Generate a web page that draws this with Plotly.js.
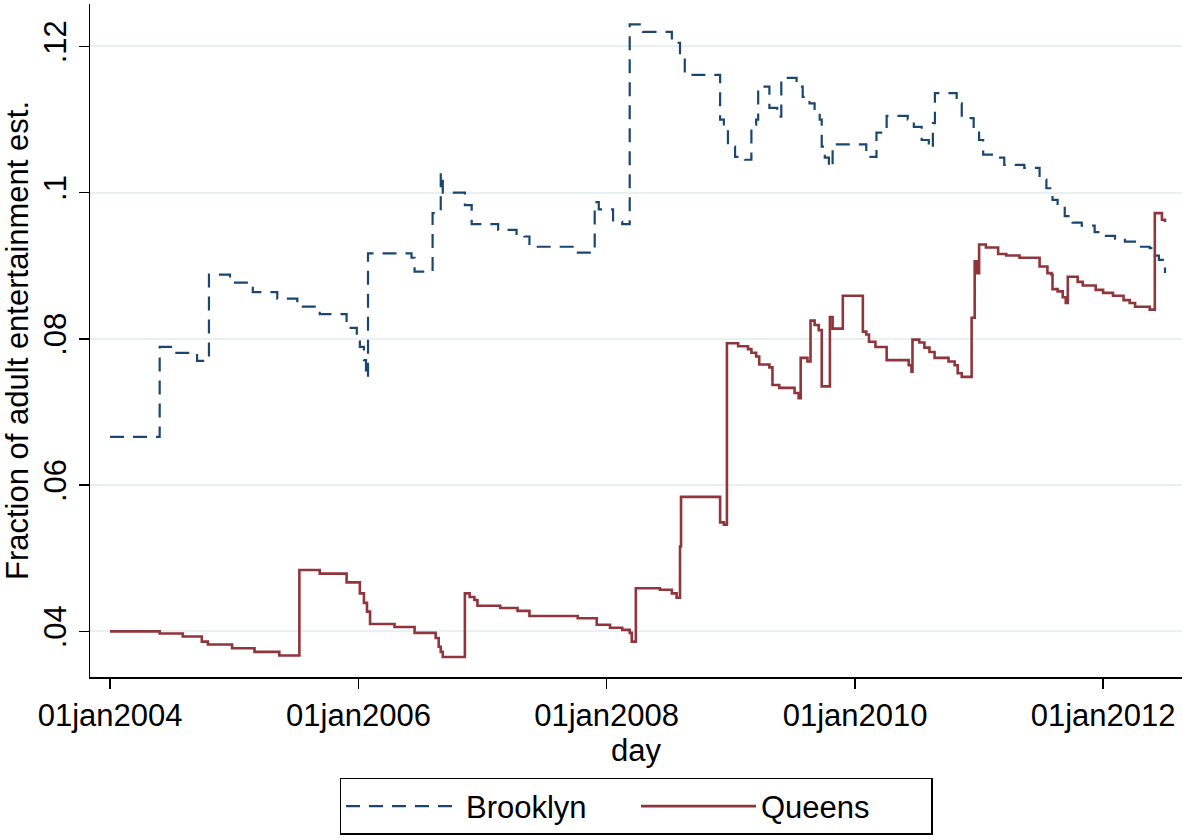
<!DOCTYPE html>
<html>
<head>
<meta charset="utf-8">
<script src="https://cdn.plot.ly/plotly-3.0.1.min.js"></script>
<style>
  html, body { margin: 0; padding: 0; background: #fff; }
  #chart { width: 1183px; height: 840px; }
</style>
</head>
<body>
<div id="chart"></div>
<script>
// step dates / values
const brooklynDates = [
  '2004-01-01', '2004-05-26', '2004-07-09', '2004-09-13', '2004-10-18', '2004-12-19',
  '2005-02-24', '2005-05-07', '2005-07-05', '2005-09-09', '2005-11-27', '2005-12-27',
  '2006-01-05', '2006-01-17', '2006-01-23', '2006-01-29', '2006-06-06', '2006-06-15',
  '2006-08-07', '2006-08-31', '2006-09-06', '2006-11-10', '2006-11-30',
  '2007-02-16', '2007-04-11', '2007-05-04', '2007-05-19', '2007-10-05', '2007-11-27',
  '2007-12-09', '2008-01-20', '2008-02-16', '2008-03-09', '2008-04-17', '2008-07-11',
  '2008-08-04', '2008-08-18', '2008-11-30', '2008-12-11', '2008-12-23', '2009-01-13',
  '2009-02-11', '2009-03-02', '2009-03-16', '2009-03-22', '2009-04-24', '2009-05-17',
  '2009-05-29', '2009-07-13', '2009-07-31', '2009-08-20', '2009-09-04', '2009-09-19',
  '2009-09-25', '2009-10-04', '2009-10-16', '2009-10-27', '2010-02-03', '2010-03-05',
  '2010-04-04', '2010-06-05', '2010-06-23', '2010-07-16', '2010-08-06', '2010-08-18',
  '2010-08-24', '2010-10-27', '2010-11-11', '2010-12-16', '2011-01-01', '2011-01-13',
  '2011-02-23', '2011-03-16', '2011-05-14', '2011-06-28', '2011-07-18', '2011-08-05',
  '2011-08-20', '2011-09-10', '2011-10-03', '2011-10-30', '2011-12-07', '2012-01-01',
  '2012-02-05', '2012-03-05', '2012-04-12', '2012-05-17', '2012-06-01', '2012-06-13',
  '2012-06-25', '2012-07-01'
];
const brooklynVals = [
  .0666, .0789, .0781, .0770, .0888, .0877,
  .0864, .0855, .0844, .0834, .0815, .0800,
  .0789, .0771, .0747, .0917, .0911, .0892,
  .0972, .1027, .1000, .0983, .0957,
  .0949, .0942, .0940, .0926, .0918, .0987,
  .0977, .0960, .0957, .1230, .1220, .1205,
  .1185, .1161, .1100, .1086, .1063, .1049,
  .1045, .1093, .1100, .1145, .1116, .1104,
  .1157, .1145, .1131, .1122, .1110, .1100,
  .1063, .1048, .1035, .1066, .1049, .1082,
  .1105, .1100, .1090, .1072, .1061, .1095,
  .1136, .1122, .1102, .1090, .1072, .1052,
  .1048, .1038, .1034, .1018, .1006, .0990,
  .0983, .0968, .0959, .0955, .0946, .0941,
  .0937, .0933, .0926, .0924, .0914, .0908,
  .0899, .0890
];

const queensDates = [
  '2004-01-01', '2004-05-26', '2004-08-02', '2004-09-27', '2004-10-15', '2004-12-25',
  '2005-03-01', '2005-05-13', '2005-07-11', '2005-09-09', '2005-11-27',
  '2006-01-05', '2006-01-17', '2006-01-26', '2006-02-04', '2006-04-17', '2006-06-15',
  '2006-08-16', '2006-08-25', '2006-08-31', '2006-09-06', '2006-11-10', '2006-11-24',
  '2006-12-08', '2006-12-17', '2007-02-22', '2007-04-14', '2007-05-19', '2007-10-08',
  '2007-12-03', '2008-01-11', '2008-02-16', '2008-03-09', '2008-03-15', '2008-03-27',
  '2008-06-06', '2008-07-11', '2008-07-25', '2008-08-04', '2008-08-07', '2008-11-30',
  '2008-12-11', '2008-12-20', '2009-01-22', '2009-02-20', '2009-03-02', '2009-03-16',
  '2009-03-25', '2009-04-24', '2009-05-03', '2009-05-23', '2009-07-07', '2009-07-19',
  '2009-07-25', '2009-08-14', '2009-08-23', '2009-09-04', '2009-09-16', '2009-09-25',
  '2009-10-19', '2009-10-27', '2009-11-26', '2010-01-24', '2010-02-03', '2010-02-11',
  '2010-03-02', '2010-04-04', '2010-06-08', '2010-06-16', '2010-06-19', '2010-07-09',
  '2010-07-24', '2010-08-08', '2010-08-23', '2010-10-03', '2010-10-21', '2010-10-30',
  '2010-11-11', '2010-12-10', '2010-12-19', '2010-12-25', '2011-01-01', '2011-01-21',
  '2011-02-26', '2011-03-22', '2011-04-30', '2011-06-28', '2011-07-21', '2011-08-02',
  '2011-08-05', '2011-08-20', '2011-09-04', '2011-09-13', '2011-09-19', '2011-10-18',
  '2011-11-02', '2011-12-10', '2012-01-01', '2012-01-30', '2012-03-01', '2012-03-19',
  '2012-04-04', '2012-05-17', '2012-06-01', '2012-06-22', '2012-07-01'
];
const queensVals = [
  .0400, .0397, .0393, .0386, .0382, .0377,
  .0372, .0367, .0484, .0479, .0467,
  .0452, .0439, .0427, .0410, .0406, .0398,
  .0391, .0379, .0372, .0365, .0452, .0447,
  .0443, .0435, .0432, .0428, .0421, .0418,
  .0409, .0405, .0402, .0398, .0386, .0459,
  .0457, .0452, .0446, .0516, .0584, .0549,
  .0546, .0794, .0790, .0786, .0781, .0776,
  .0765, .0761, .0737, .0733, .0726, .0719,
  .0774, .0769, .0825, .0819, .0812, .0735,
  .0830, .0814, .0859, .0810, .0806, .0796,
  .0789, .0771, .0764, .0755, .0799, .0795,
  .0788, .0782, .0774, .0769, .0764, .0753,
  .0748, .0829, .0906, .0890, .0929, .0925,
  .0916, .0914, .0911, .0899, .0890, .0888,
  .0868, .0865, .0857, .0849, .0885, .0878,
  .0873, .0867, .0863, .0859, .0853, .0849,
  .0844, .0840, .0972, .0963, .0960
];

const xTickVals = ['2004-01-01', '2006-01-01', '2008-01-01', '2010-01-01', '2012-01-01'];
const xTickText = ['01jan2004', '01jan2006', '01jan2008', '01jan2010', '01jan2012'];
const yTickVals = [0.04, 0.06, 0.08, 0.10, 0.12];
const yTickText = ['.04', '.06', '.08', '.1', '.12'];

const FONT = 'Liberation Sans, Arial, Helvetica, sans-serif';
const FS = 31;

const traces = [
  {
    type: 'scatter',
    mode: 'lines',
    name: 'Brooklyn',
    x: brooklynDates,
    y: brooklynVals,
    line: { shape: 'hv', color: '#1a476f', width: 2.2, dash: '14px,9px' }
  },
  {
    type: 'scatter',
    mode: 'lines',
    name: 'Queens',
    x: queensDates,
    y: queensVals,
    line: { shape: 'hv', color: '#90353b', width: 2.6 }
  }
];

const layout = {
  width: 1183,
  height: 840,
  margin: { l: 90, r: 1, t: 4, b: 163 },
  paper_bgcolor: '#ffffff',
  plot_bgcolor: '#ffffff',
  font: { family: FONT, size: FS, color: '#000' },
  showlegend: true,
  legend: {
    orientation: 'h',
    x: 0.5,
    xanchor: 'center',
    y: -0.15,
    yanchor: 'top',
    bordercolor: '#000',
    borderwidth: 1.5,
    bgcolor: '#fff',
    itemwidth: 115,
    entrywidth: 165,
    font: { family: FONT, size: FS, color: '#000' },
    traceorder: 'normal'
  },
  xaxis: {
    type: 'date',
    range: ['2003-11-03', '2012-08-20'],
    tickmode: 'array',
    tickvals: xTickVals,
    ticktext: xTickText,
    ticks: 'outside',
    ticklen: 10,
    tickwidth: 1.5,
    tickcolor: '#000',
    showline: true,
    linecolor: '#000',
    linewidth: 1.5,
    showgrid: false,
    zeroline: false,
    automargin: false,
    tickfont: { family: FONT, size: FS, color: '#000' },
    title: { text: 'day', standoff: 0, font: { family: FONT, size: FS, color: '#000' } }
  },
  yaxis: {
    range: [0.03376, 0.1258],
    tickmode: 'array',
    tickvals: yTickVals,
    ticktext: yTickText,
    tickangle: -90,
    ticks: 'outside',
    ticklen: 10,
    tickwidth: 1.5,
    tickcolor: '#000',
    showline: true,
    linecolor: '#000',
    linewidth: 1.5,
    showgrid: true,
    gridcolor: '#e8f0f2',
    gridwidth: 2,
    zeroline: false,
    automargin: false,
    tickfont: { family: FONT, size: FS, color: '#000' },
    title: {
      text: 'Fraction of adult entertainment est.',
      standoff: 2,
      font: { family: FONT, size: FS, color: '#000' }
    }
  }
};

Plotly.newPlot('chart', traces, layout, { displayModeBar: false, staticPlot: true });
</script>
</body>
</html>
